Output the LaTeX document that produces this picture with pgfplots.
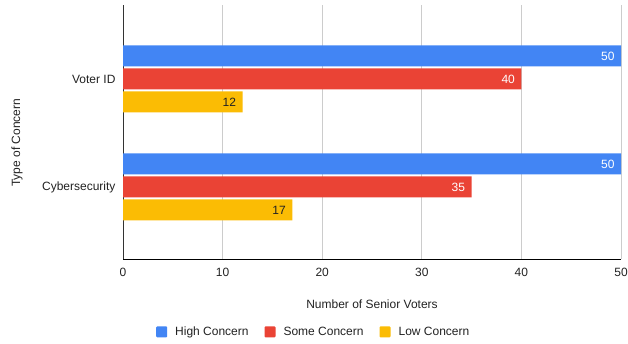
\documentclass[border=0pt]{standalone}
\usepackage{pgfplots}
\pgfplotsset{compat=1.18}
\usepackage{fontspec}
\setmainfont{Liberation Sans}
\definecolor{cHigh}{HTML}{4285F4}
\definecolor{cSome}{HTML}{EA4335}
\definecolor{cLow}{HTML}{FBBC04}
\definecolor{cGrid}{HTML}{CCCCCC}
\definecolor{cText}{HTML}{222222}
\begin{document}
\begin{tikzpicture}
\path[use as bounding box] (0,0) rectangle (628pt,343pt);
\begin{axis}[
  at={(123pt,84pt)}, anchor=south west,
  scale only axis, width=498pt, height=254pt,
  xbar, bar width=21pt,
  xmin=0, xmax=50, ymin=-0.667, ymax=1.685,
  xtick={0,10,20,30,40,50},
  ytick={0,1}, yticklabels={Cybersecurity,Voter ID},
  major tick length=0pt,
  axis lines*=left,
  axis line style={-},
  x axis line style={draw=black, line width=0.9pt},
  y axis line style={draw=black!80, line width=0.9pt},
  xmajorgrids, grid style={draw=cGrid, line width=0.8pt},
  font=\fontsize{12}{14}\selectfont,
  tick label style={text=cText, font=\fontsize{12}{14}\selectfont},
  /pgf/number format/assume math mode=true,
  xticklabel style={yshift=-6pt},
  yticklabel style={xshift=-4pt},
  xlabel={Number of Senior Voters},
  ylabel={Type of Concern},
  xlabel style={at={(axis description cs:0.5,-0.177)}, anchor=center, text=cText},
  ylabel style={at={(axis description cs:-0.213,0.457)}, anchor=center, text=cText},
  legend style={at={(axis description cs:0.383,-0.287)}, anchor=center, draw=none,
    legend columns=3, font=\fontsize{12}{14}\selectfont, text=cText,
    /tikz/every odd column/.append style={column sep=6pt},
    /tikz/every even column/.append style={column sep=14pt}},
  legend image code/.code={\fill[#1,draw=none,rounded corners=1pt] (0pt,-5.5pt) rectangle (11pt,5.5pt);},
  nodes near coords, point meta=x,
  nodes near coords style={anchor=east, xshift=-3pt, font=\fontsize{12}{14}\selectfont},
]
\addplot[fill=cHigh, draw=none, bar shift=23pt, nodes near coords style={text=white}] coordinates {(50,1) (50,0)};
\addplot[fill=cSome, draw=none, bar shift=0pt, nodes near coords style={text=white}] coordinates {(40,1) (35,0)};
\addplot[fill=cLow, draw=none, bar shift=-23pt, nodes near coords style={text=cText}] coordinates {(12,1) (17,0)};
\legend{High Concern, Some Concern, Low Concern}
\end{axis}
\end{tikzpicture}
\end{document}
